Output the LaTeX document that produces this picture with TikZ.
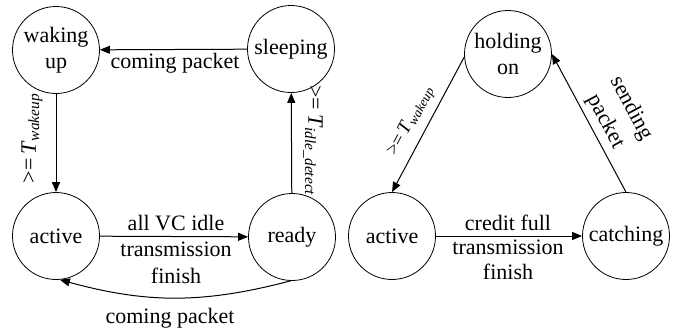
\documentclass[tikz,border=0pt]{standalone}
\usepackage{fontspec}
\setmainfont{Liberation Serif}
\usetikzlibrary{arrows.meta}

\begin{document}
\begin{tikzpicture}[x=0.5pt,y=-0.5pt,font=\fontsize{11}{13.25}\selectfont]
\useasboundingbox (0,0) rectangle (683,333);
\node[] at (175, 63) {coming packet};
\node[rotate=90] at (32, 138) {>=\,\textit{T}\textsubscript{\textit{wakeup}}};
\node[rotate=-90] at (313, 141) {>=\,\textit{T}\textsubscript{\textit{idle\_detect}}};
\node[align=center] at (176, 249) {all VC idle\\transmission\\finish};
\node[] at (170, 318) {coming packet};
\node[rotate=62,font=\fontsize{9.5}{11}\selectfont] at (411, 121) {>=\,\textit{T}\textsubscript{\textit{wakeup}}};
\node[rotate=-62,align=center,font=\fontsize{11}{14.5}\selectfont] at (618, 115) {sending\\packet};
\node[align=center,font=\fontsize{11}{12.25}\selectfont] at (508, 247) {credit full\\transmission\\finish};
\begin{scope}[every node/.style={circle,draw,minimum size=43.5pt,inner sep=0pt,align=center,font=\fontsize{11}{13}\selectfont}]
	\node (wake) at (56, 50) {waking\\up};
	\node (sleep) at (291, 49) {sleeping};
	\node (act) at (56, 236) {active};
	\node (ready) at (292, 237) {ready};
	\node (hold) at (508, 54) {holding\\on};
	\node (act2) at (392, 236) {active};
	\node (catch) at (626, 236) {catching};
\end{scope}
\begin{scope}[>={Triangle[length=5pt,width=4pt]}, every edge/.style={draw=black,line width=0.5pt}]
	\path [->] (sleep) edge node {} (wake);
	\path [->] (wake) edge node {} (act);
	\path [->] (act) edge node {} (ready);
	\path [->] (ready) edge node {} (sleep);
	\path [->] (ready.-92) edge[bend left=15] node {} (act.-85);
	\path [->] (hold.184) edge node {} (act2.north);
	\path [->] (catch.north) edge node {} (hold.east);
	\path [->] (act2) edge node {} (catch);
\end{scope}
\end{tikzpicture}
\end{document}
